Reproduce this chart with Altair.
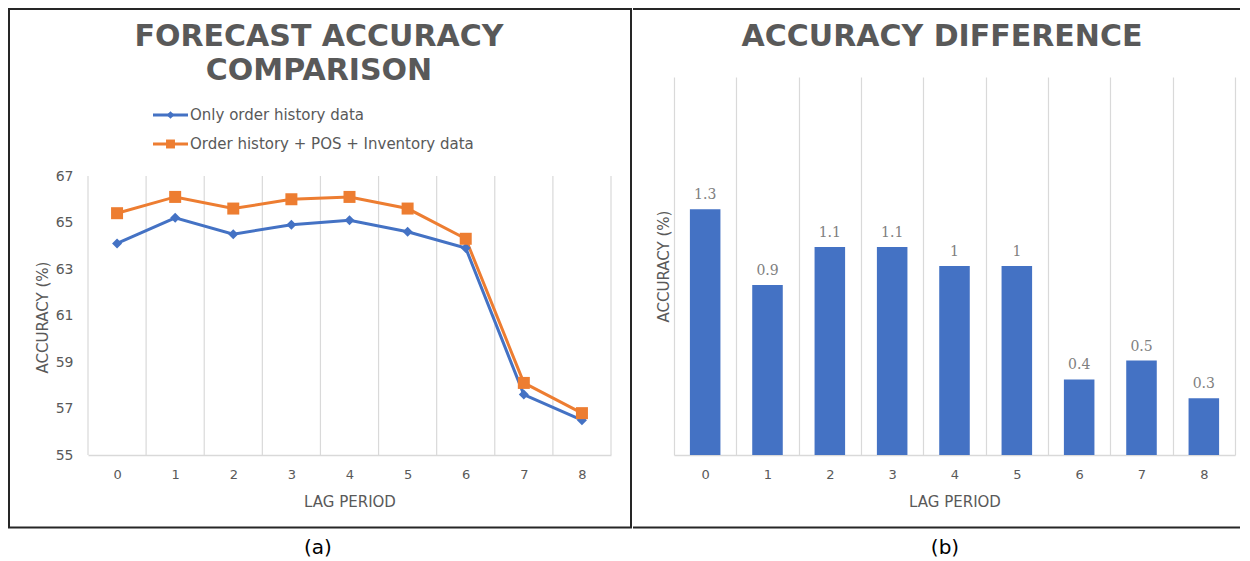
import altair as alt
import pandas as pd

# ---------------- data ----------------
lags = [0, 1, 2, 3, 4, 5, 6, 7, 8]
series_names = ["Only order history data", "Order history + POS + Inventory data"]
only_order = [64.1, 65.2, 64.5, 64.9, 65.1, 64.6, 63.9, 57.6, 56.5]
with_pos_inv = [65.4, 66.1, 65.6, 66.0, 66.1, 65.6, 64.3, 58.1, 56.8]
diff_values = [1.3, 0.9, 1.1, 1.1, 1.0, 1.0, 0.4, 0.5, 0.3]
y_ticks = [55, 57, 59, 61, 63, 65, 67]
left_title = ["FORECAST ACCURACY", "COMPARISON"]
right_title = "ACCURACY DIFFERENCE"
x_title = "LAG PERIOD"
y_title = "ACCURACY (%)"
captions = ["(a)", "(b)"]

# ---------------- styles ----------------
BLUE = "#4472C4"
ORANGE = "#ED7D31"
GRID = "#D9D9D9"
TXT = "#595959"
FRAME = "#262626"
FONT = "DejaVu Sans"

LW = 523
RW = 561
H = 378          # shared plot height of both panels
LEFT_TOP = 99    # pixel row of the value 67 in the left panel

line_df = pd.DataFrame({
    "lag": lags * 2,
    "series": [series_names[0]] * len(lags) + [series_names[1]] * len(lags),
    "accuracy": only_order + with_pos_inv,
})
diff_df = pd.DataFrame({"lag": lags, "diff": diff_values})
grid_df = pd.DataFrame({"lag": lags})
one = pd.DataFrame({"k": [0]})


def x_enc(grid, **kw):
    return alt.X(
        "lag:O",
        scale=alt.Scale(type="band", paddingInner=0, paddingOuter=0),
        axis=alt.Axis(
            title=x_title, labelAngle=0, tickBand="extent", grid=grid,
            gridColor=GRID, gridWidth=1.2, domainColor=GRID, domainWidth=1.5,
            ticks=False, labelFontSize=13, labelColor=TXT, labelPadding=13,
            titleFontSize=15, titleFontWeight="normal", titleColor=TXT,
            titlePadding=13, labelFont=FONT, titleFont=FONT,
        ),
        **kw,
    )


# ---------------- left panel ----------------
color_scale = alt.Scale(domain=series_names, range=[BLUE, ORANGE])
y_left_scale = alt.Scale(domain=[55, 67], range=[H, LEFT_TOP], nice=False, zero=False)
y_left_axis = alt.Axis(
    title=y_title, values=y_ticks, grid=False, domain=False, ticks=False,
    labelFontSize=14, labelColor=TXT, labelPadding=15,
    titleFontSize=15, titleFontWeight="normal", titleColor=TXT,
    titleX=-46, titleY=240, titleBaseline="middle", titleAlign="center",
    labelFont=FONT, titleFont=FONT,
)
base_left = alt.Chart(line_df).encode(
    x=x_enc(False),
    y=alt.Y("accuracy:Q", scale=y_left_scale, axis=y_left_axis),
    color=alt.Color("series:N", scale=color_scale, legend=None),
)
lines = base_left.mark_line(strokeWidth=3)
points = base_left.mark_point(filled=True, opacity=1).encode(
    shape=alt.Shape("series:N", scale=alt.Scale(domain=series_names, range=["diamond", "square"]), legend=None),
    size=alt.Size("series:N", scale=alt.Scale(domain=series_names, range=[100, 144]), legend=None),
)

# vertical category gridlines (between categories), spanning the value range only
grid_rules = alt.Chart(grid_df).mark_rule(color=GRID, strokeWidth=1.2).encode(
    x=x_enc(False, bandPosition=0),
    y=alt.datum(67), y2=alt.datum(55),
)
grid_end = alt.Chart(one).mark_rule(color=GRID, strokeWidth=1.2).encode(
    x=alt.value(LW), y=alt.datum(67), y2=alt.datum(55),
)

frame_left = alt.Chart(one).mark_rect(fill="transparent", stroke=FRAME, strokeWidth=2).encode(
    x=alt.value(-79), x2=alt.value(543), y=alt.value(-68), y2=alt.value(450.5)
)
title_left = alt.Chart(one).mark_text(
    font=FONT, fontSize=30, fontWeight="bold", color=TXT, lineHeight=34,
    align="center", baseline="middle",
).encode(x=alt.value(231), y=alt.value(-40), text=alt.value(left_title))

legend_layers = []
leg_colors = [BLUE, ORANGE]
leg_shapes = ["diamond", "square"]
leg_sizes = [60, 80]
for i, name in enumerate(series_names):
    yy = 38 + 29 * i
    legend_layers.append(
        alt.Chart(one).mark_rule(color=leg_colors[i], strokeWidth=3).encode(
            x=alt.value(65), x2=alt.value(100), y=alt.value(yy)))
    legend_layers.append(
        alt.Chart(one).mark_point(shape=leg_shapes[i], filled=True, opacity=1,
                                  color=leg_colors[i], size=leg_sizes[i]).encode(
            x=alt.value(82.5), y=alt.value(yy)))
    legend_layers.append(
        alt.Chart(one).mark_text(align="left", baseline="middle", font=FONT,
                                 fontSize=15, color=TXT).encode(
            x=alt.value(102), y=alt.value(yy), text=alt.value(name)))

caption_left = alt.Chart(one).mark_text(font=FONT, fontSize=20, color="#000000",
                                        align="center", baseline="middle").encode(
    x=alt.value(230), y=alt.value(471), text=alt.value(captions[0]))

left = alt.layer(frame_left, grid_rules, grid_end, lines, points, title_left,
                 *legend_layers, caption_left).properties(width=LW, height=H)

# ---------------- right panel ----------------
base_right = alt.Chart(diff_df).encode(
    x=x_enc(True),
    y=alt.Y(
        "diff:Q",
        scale=alt.Scale(domain=[0, 2], nice=False),
        axis=alt.Axis(
            title=y_title, labels=False, grid=False, domain=False, ticks=False,
            titleFontSize=15, titleFontWeight="normal", titleColor=TXT,
            titlePadding=3, titleFont=FONT,
        ),
    ),
)
bars = base_right.mark_bar(color=BLUE, width=alt.RelativeBandSize(0.49))
bar_labels = base_right.mark_text(font="DejaVu Serif", fontSize=14, color="#7F7F7F",
                                  baseline="middle", dy=-14).encode(text=alt.Text("diff:Q"))

frame_right_top = alt.Chart(one).mark_rule(color=FRAME, strokeWidth=2).encode(
    x=alt.value(-41), x2=alt.value(566), y=alt.value(-68))
frame_right_bottom = alt.Chart(one).mark_rule(color=FRAME, strokeWidth=2).encode(
    x=alt.value(-41), x2=alt.value(566), y=alt.value(450.5))
title_right = alt.Chart(one).mark_text(
    font=FONT, fontSize=30, fontWeight="bold", color=TXT, align="center", baseline="middle",
).encode(x=alt.value(268), y=alt.value(-40), text=alt.value(right_title))
caption_right = alt.Chart(one).mark_text(font=FONT, fontSize=20, color="#000000",
                                         align="center", baseline="middle").encode(
    x=alt.value(271), y=alt.value(471), text=alt.value(captions[1]))

right = alt.layer(frame_right_top, frame_right_bottom, bars, bar_labels, title_right,
                  caption_right).properties(width=RW, height=H)

chart = (
    alt.hconcat(left, right, spacing=0)
    .properties(padding=0)
    .configure(font=FONT)
    .configure_view(strokeWidth=0, stroke="transparent")
)

chart.save("out.html", embed_options={"renderer": "svg", "actions": False})
